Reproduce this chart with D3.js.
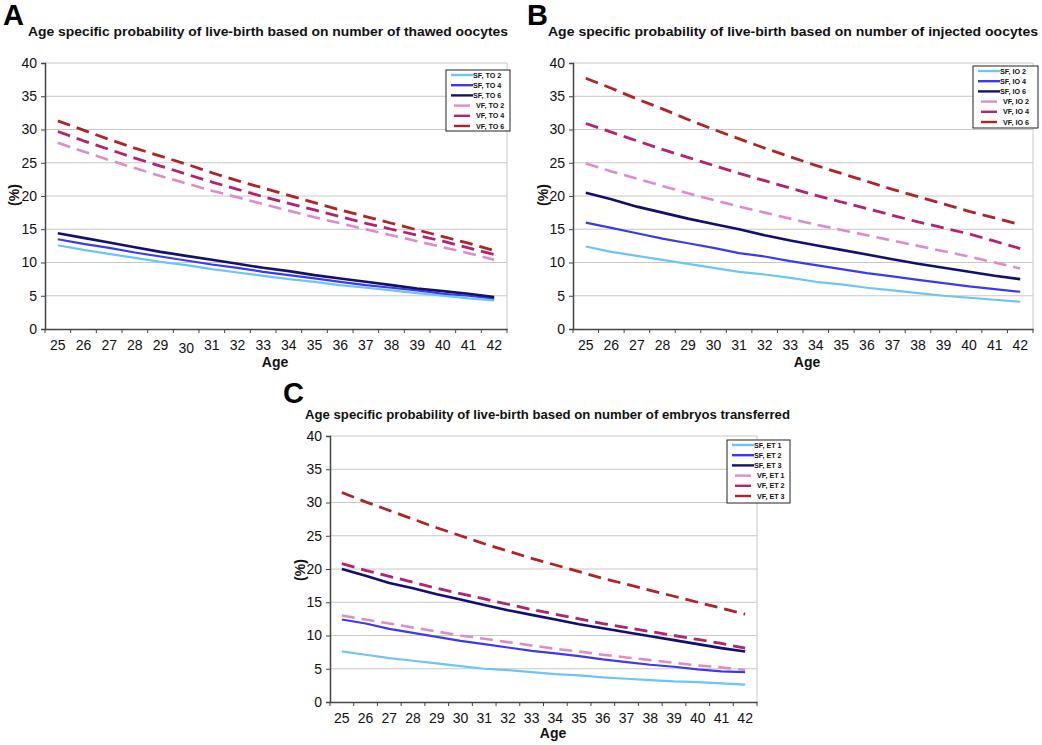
<!DOCTYPE html>
<html><head><meta charset="utf-8">
<script src="https://cdn.jsdelivr.net/npm/d3@7"></script>
<style>
body{margin:0;background:#fff;}
svg{font-family:"Liberation Sans",Arial,sans-serif;}
</style></head>
<body><svg id="c" width="1042" height="745"></svg>
<script>
const ages = [25,26,27,28,29,30,31,32,33,34,35,36,37,38,39,40,41,42];
const yTicks = [0,5,10,15,20,25,30,35,40];
const seriesStyles = ["SF1","SF2","SF3","VF1","VF2","VF3"];

// Panel A: thawed oocytes
const namesA = ["SF, TO 2","SF, TO 4","SF, TO 6","VF, TO 2","VF, TO 4","VF, TO 6"];
const sfTO2 = [12.6,11.9,11.3,10.7,10.1,9.6,9.0,8.5,8.0,7.5,7.1,6.6,6.2,5.8,5.4,5.0,4.6,4.3];
const sfTO4 = [13.5,12.8,12.2,11.5,10.9,10.3,9.7,9.2,8.6,8.1,7.6,7.1,6.6,6.2,5.8,5.3,5.0,4.6];
const sfTO6 = [14.4,13.7,13.0,12.3,11.6,11.0,10.4,9.8,9.2,8.7,8.1,7.6,7.1,6.6,6.1,5.7,5.3,4.8];
const vfTO2 = [28.0,26.7,25.4,24.2,23.0,21.9,20.8,19.8,18.8,17.8,16.8,15.9,15.0,14.1,13.2,12.3,11.4,10.4];
const vfTO4 = [29.7,28.3,27.0,25.7,24.5,23.3,22.1,21.0,19.9,18.9,17.9,16.9,15.9,15.0,14.1,13.2,12.2,11.2];
const vfTO6 = [31.3,29.9,28.5,27.2,26.0,24.8,23.5,22.3,21.2,20.1,19.0,17.9,16.9,15.9,14.9,13.9,12.9,11.8];

// Panel B: injected oocytes
const namesB = ["SF, IO 2","SF, IO 4","SF, IO 6","VF, IO 2","VF, IO 4","VF, IO 6"];
const sfIO2 = [12.4,11.6,11.0,10.4,9.8,9.2,8.6,8.2,7.7,7.1,6.7,6.2,5.8,5.4,5.0,4.7,4.4,4.1];
const sfIO4 = [16.0,15.2,14.4,13.6,12.9,12.2,11.4,10.9,10.2,9.6,9.0,8.4,7.9,7.4,6.9,6.4,6.0,5.6];
const sfIO6 = [20.5,19.5,18.4,17.5,16.6,15.8,15.0,14.1,13.3,12.6,11.9,11.2,10.5,9.8,9.2,8.6,8.0,7.5];
const vfIO2 = [24.9,23.7,22.6,21.5,20.4,19.4,18.4,17.5,16.6,15.7,14.9,14.1,13.3,12.5,11.7,10.9,10.0,9.1];
const vfIO4 = [30.9,29.6,28.3,27.0,25.8,24.6,23.4,22.3,21.2,20.1,19.1,18.1,17.1,16.1,15.2,14.3,13.2,12.1];
const vfIO6 = [37.7,36.2,34.6,33.1,31.5,30.0,28.6,27.2,25.9,24.6,23.4,22.2,21.0,19.9,18.8,17.7,16.7,15.7];

// Panel C: embryos transferred
const namesC = ["SF, ET 1","SF, ET 2","SF, ET 3","VF, ET 1","VF, ET 2","VF, ET 3"];
const sfET1 = [7.6,7.1,6.6,6.2,5.8,5.4,5.0,4.8,4.5,4.2,4.0,3.7,3.5,3.3,3.1,3.0,2.8,2.6];
const sfET2 = [12.4,11.8,11.0,10.4,9.8,9.2,8.7,8.2,7.7,7.3,6.9,6.4,6.0,5.6,5.3,4.9,4.6,4.5];
const sfET3 = [20.0,19.0,17.9,17.1,16.2,15.4,14.6,13.8,13.1,12.4,11.7,11.1,10.5,9.9,9.3,8.7,8.1,7.6];
const vfET1 = [13.0,12.4,11.8,11.2,10.6,10.0,9.5,9.0,8.5,8.0,7.6,7.1,6.7,6.3,5.9,5.5,5.2,4.8];
const vfET2 = [20.8,19.8,18.9,18.0,17.1,16.3,15.5,14.7,13.9,13.2,12.5,11.8,11.2,10.6,10.0,9.4,8.8,8.1];
const vfET3 = [31.5,30.1,28.8,27.5,26.2,25.0,23.8,22.7,21.6,20.6,19.6,18.6,17.7,16.8,15.9,15.0,14.1,13.2];

const titles = {
  A: "Age specific probability of live-birth based on number of thawed oocytes",
  B: "Age specific probability of live-birth based on number of injected oocytes",
  C: "Age specific probability of live-birth based on number of embryos transferred"
};

const style = {
  SF1:{color:"#6cc4f7", dash:null, w:2.2},
  SF2:{color:"#3a3af0", dash:null, w:2.2},
  SF3:{color:"#12106e", dash:null, w:2.6},
  VF1:{color:"#dc8ccb", dash:"13,7", w:2.6},
  VF2:{color:"#b5226f", dash:"13,7", w:2.8},
  VF3:{color:"#b02426", dash:"13,7", w:2.8}
};

const panels = [
  {id:"A", names:namesA, data:[sfTO2,sfTO4,sfTO6,vfTO2,vfTO4,vfTO6], l:45, r:507, t:63, b:329,
   letter:[3,25], title:[28,36,480], ylab:[14,195], xlab:[275,367], leg:[446,70,64,61]},
  {id:"B", names:namesB, data:[sfIO2,sfIO4,sfIO6,vfIO2,vfIO4,vfIO6], l:573, r:1033, t:63, b:329,
   letter:[527,25], title:[548,36,490], ylab:[543,195], xlab:[807,367], leg:[973,66,65,62]},
  {id:"C", names:namesC, data:[sfET1,sfET2,sfET3,vfET1,vfET2,vfET3], l:330, r:757, t:436, b:702,
   letter:[283,403], title:[305,419,485], ylab:[300,570], xlab:[553,738], leg:[727,440,63,63]}
];

const svg = d3.select("#c");

panels.forEach(p => {
  const g = svg.append("g");
  const x = d3.scaleBand().domain(ages).range([p.l, p.r]);
  const y = d3.scaleLinear().domain([0,40]).range([p.b, p.t]);

  // letter and title
  g.append("text").attr("x", p.letter[0]).attr("y", p.letter[1])
    .attr("font-size", 29).attr("font-weight","bold").attr("fill","#000").text(p.id);
  g.append("text").attr("x", p.title[0]).attr("y", p.title[1])
    .attr("font-size", 12.5).attr("font-weight","bold").attr("fill","#111")
    .attr("textLength", p.title[2]).attr("lengthAdjust","spacingAndGlyphs")
    .text(titles[p.id]);

  // grid
  g.append("g").selectAll("line").data(yTicks.filter(d=>d>0)).join("line")
    .attr("x1", p.l).attr("x2", p.r).attr("y1", d=>y(d)).attr("y2", d=>y(d))
    .attr("stroke","#c8c8c8").attr("stroke-width",1);
  g.append("line").attr("x1",p.r).attr("x2",p.r).attr("y1",p.t).attr("y2",p.b)
    .attr("stroke","#c8c8c8").attr("stroke-width",1);

  // y axis
  const ya = d3.axisLeft(y).tickValues(yTicks).tickSize(4).tickPadding(4);
  const yg = g.append("g").attr("transform", `translate(${p.l},0)`).call(ya);
  yg.select(".domain").attr("stroke","#444").attr("stroke-width",1.5);
  yg.selectAll(".tick line").attr("stroke","#444");
  yg.selectAll(".tick text").attr("font-size",14).attr("fill","#111")
    .attr("font-family","Liberation Sans, Arial, sans-serif");

  // x axis: ticks between categories
  const xa = d3.axisBottom(x).tickSize(0).tickPadding(11);
  const xg = g.append("g").attr("transform", `translate(0,${p.b})`).call(xa);
  xg.select(".domain").attr("stroke","#444").attr("stroke-width",1.5);
  xg.selectAll(".tick text").attr("font-size",14).attr("fill","#111")
    .attr("font-family","Liberation Sans, Arial, sans-serif")
    .attr("dy", d => (p.id==="A" && d===30) ? "0.95em" : "0.71em");
  xg.append("g").selectAll("line").data(ages).join("line")
    .attr("x1", d=>x(d)).attr("x2", d=>x(d)).attr("y1",0).attr("y2",4)
    .attr("stroke","#444");
  xg.append("line").attr("x1",p.r).attr("x2",p.r).attr("y1",0).attr("y2",4).attr("stroke","#444");

  // axis titles
  g.append("text").attr("transform", `translate(${p.ylab[0]},${p.ylab[1]}) rotate(-90)`)
    .attr("text-anchor","middle").attr("dominant-baseline","central")
    .attr("font-size",14).attr("font-weight","bold").attr("fill","#111").text("(%)");
  g.append("text").attr("x", p.xlab[0]).attr("y", p.xlab[1])
    .attr("text-anchor","middle").attr("font-size",14).attr("font-weight","bold")
    .attr("fill","#111").text("Age");

  // lines
  const line = d3.line().x((d,i)=>x(ages[i]) + x.bandwidth()/2).y(d=>y(d));
  const order = [0,1,2,3,4,5];
  order.forEach(i => {
    const s = style[seriesStyles[i]];
    g.append("path").datum(p.data[i]).attr("d", line)
      .attr("fill","none").attr("stroke", s.color).attr("stroke-width", s.w)
      .attr("stroke-dasharray", s.dash).attr("stroke-linejoin","round");
  });

  // legend
  const [lx, ly, lw, lh] = p.leg;
  const lg = g.append("g");
  lg.append("rect").attr("x",lx).attr("y",ly).attr("width",lw).attr("height",lh)
    .attr("fill","#fff").attr("stroke","#222").attr("stroke-width",1);
  p.names.forEach((n,i) => {
    const s = style[seriesStyles[i]];
    const yy = ly + 5 + i*10.2;
    const sf = i < 3;
    lg.append("line").attr("x1", lx + (sf?5:8)).attr("x2", lx + (sf?27:24))
      .attr("y1",yy).attr("y2",yy).attr("stroke",s.color).attr("stroke-width",2.4);
    lg.append("text").attr("x", lx + (sf?27:30)).attr("y", yy).attr("dy","0.35em")
      .attr("font-size",7.2).attr("font-weight","bold").attr("fill","#111").text(n);
  });
});
</script>
</body></html>
